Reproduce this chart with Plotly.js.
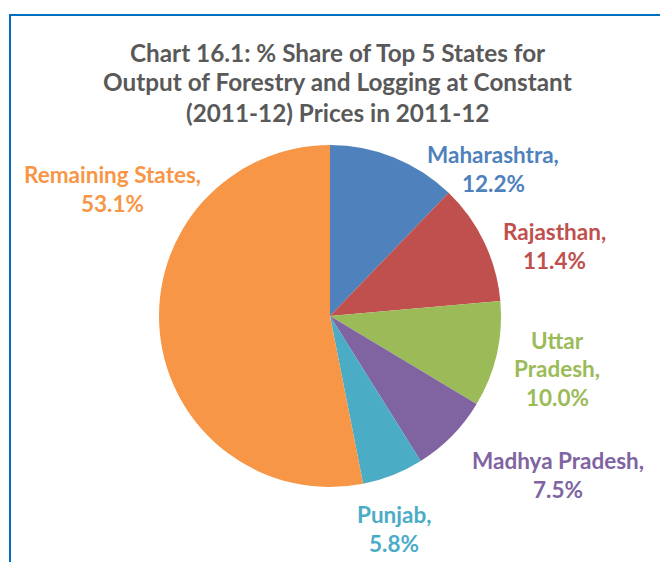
<!DOCTYPE html>
<html>
<head>
<meta charset="utf-8">
<script src="https://cdn.plot.ly/plotly-3.0.1.min.js"></script>
<style>
html,body{margin:0;padding:0;background:#fff;}
#chart{width:660px;height:562px;}
</style>
</head>
<body>
<div id="chart"></div>
<script>
// ---- data ----
const states = ["Maharashtra", "Rajasthan", "Uttar Pradesh", "Madhya Pradesh", "Punjab", "Remaining States"];
const shares = [12.2, 11.4, 10.0, 7.5, 5.8, 53.1];
const colors = ["#4F81BD", "#C0504D", "#9BBB59", "#8064A2", "#4BACC6", "#F79646"];
// how each label name is broken into lines
const labelNameLines = [["Maharashtra,"], ["Rajasthan,"], ["Uttar", "Pradesh,"], ["Madhya Pradesh,"], ["Punjab,"], ["Remaining States,"]];
const titleLines = [
  "Chart 16.1: % Share of Top 5 States for",
  "Output of Forestry and Logging at Constant",
  "(2011-12) Prices in 2011-12"
];

// ---- layout helpers (positions in pixels) ----
const W = 660, H = 562;
const px = x => x / W;
const py = y => 1 - y / H;
// [center x, first line y]
const labelPos = [
  [493, 155], [554, 231.5], [557, 340], [558, 460.5], [394, 514.5], [112, 174.5]
];
const labelLineGap = 28.5;
const titleY = [52, 82, 112];
const FONT = "Lato, 'Open Sans', sans-serif";

const annotations = [];
titleLines.forEach((t, i) => {
  annotations.push({
    text: "<b>" + t + "</b>", xref: "paper", yref: "paper",
    x: px(337.5), y: py(titleY[i]), xanchor: "center", yanchor: "middle",
    showarrow: false, font: {family: FONT, size: 24.3, color: "#595959"}
  });
});
states.forEach((s, i) => {
  const lines = labelNameLines[i].concat([shares[i].toFixed(1) + "%"]);
  lines.forEach((ln, j) => {
    annotations.push({
      text: "<b>" + ln + "</b>",
      xref: "paper", yref: "paper",
      x: px(labelPos[i][0]), y: py(labelPos[i][1] + j * labelLineGap),
      xanchor: "center", yanchor: "middle",
      showarrow: false,
      font: {family: FONT, size: 22.5, color: colors[i]}
    });
  });
});

const cx = 330, cy = 316, r = 171;
const data = [{
  type: "pie",
  labels: states,
  values: shares,
  marker: {colors: colors, line: {width: 0}},
  sort: false,
  direction: "clockwise",
  rotation: 0,
  textinfo: "none",
  hoverinfo: "label+percent",
  showlegend: false,
  domain: {x: [px(cx - r), px(cx + r)], y: [py(cy + r), py(cy - r)]}
}];

const layout = {
  width: W, height: H,
  margin: {l: 0, r: 0, t: 0, b: 0},
  paper_bgcolor: "#ffffff",
  showlegend: false,
  annotations: annotations,
  shapes: [{
    type: "rect", xref: "paper", yref: "paper",
    x0: px(10), x1: 1.1, y0: -0.1, y1: py(15),
    line: {color: "#0070C0", width: 2}, fillcolor: "rgba(0,0,0,0)"
  }]
};

Plotly.newPlot("chart", data, layout, {staticPlot: true, displayModeBar: false});
</script>
</body>
</html>
